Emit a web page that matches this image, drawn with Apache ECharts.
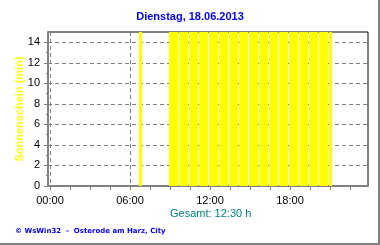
<!DOCTYPE html>
<html><head><meta charset="utf-8">
<script src="https://cdn.jsdelivr.net/npm/echarts@6/dist/echarts.min.js"></script>
<style>html,body{margin:0;padding:0;background:#fff}#c{width:380px;height:245px}</style>
</head><body><div id="c"></div>
<script>
const chartTitle = 'Dienstag, 18.06.2013';
const yAxisName = 'Sonnenschein (min)';
const totalText = 'Gesamt: 12:30 h';
const footerText = '\u00A9 WsWin32  -  Osterode am Harz, City';
const xTickLabels = ['00:00', '06:00', '12:00', '18:00'];
const xLabelHours = [0, 6, 12, 18];
const xMinorHours = [0, 1.5, 3, 4.5, 6, 7.5, 9, 10.5, 12, 13.5, 15, 16.5, 18, 19.5, 21, 22.5];
const yLabelValues = [0, 2, 4, 6, 8, 10, 12, 14];
const yMinorValues = [0, 1, 2, 3, 4, 5, 6, 7, 8, 9, 10, 11, 12, 13, 14];
// 15-minute intervals with sunshine (timestamp, minutes of sunshine)
const sunTimes = [
  '06:45',
  '09:00', '09:15', '09:30', '09:45', '10:00', '10:15', '10:30', '10:45',
  '11:00', '11:15', '11:30', '11:45', '12:00', '12:15', '12:30', '12:45',
  '13:00', '13:15', '13:30', '13:45', '14:00', '14:15', '14:30', '14:45',
  '15:00', '15:15', '15:30', '15:45', '16:00', '16:15', '16:30', '16:45',
  '17:00', '17:15', '17:30', '17:45', '18:00', '18:15', '18:30', '18:45',
  '19:00', '19:15', '19:30', '19:45', '20:00', '20:15', '20:30', '20:45',
  '21:00'
];
const sunMinutes = [
  15,
  15, 15, 15, 15, 15, 15, 15, 15,
  15, 15, 15, 15, 15, 15, 15, 15,
  15, 15, 15, 15, 15, 15, 15, 15,
  15, 15, 15, 15, 15, 15, 15, 15,
  15, 15, 15, 15, 15, 15, 15, 15,
  15, 15, 15, 15, 15, 15, 15, 15,
  15
];
const intervalHours = 0.25;

const toHours = s => { const p = s.split(':'); return +p[0] + (+p[1]) / 60; };
const barData = sunTimes.map((t, i) => [toHours(t), sunMinutes[i]]);

const FONT = 'Liberation Sans, Arial, sans-serif';
const chart = echarts.init(document.getElementById('c'), null, {renderer: 'canvas'});
const xCommon = {type: 'value', min: -0.15, max: 23.85, position: 'bottom', gridIndex: 0};
chart.setOption({
  animation: false,
  backgroundColor: '#fff',
  title: {
    text: chartTitle, left: 'center', top: 11, padding: 0,
    textStyle: {color: '#0000ff', fontWeight: 'bold', fontSize: 11, fontFamily: FONT}
  },
  grid: {left: 48, top: 32, width: 320, height: 154, show: true, borderColor: '#000', borderWidth: 1, backgroundColor: '#fff'},
  xAxis: [
    Object.assign({}, xCommon, {
      axisLine: {onZero: false, lineStyle: {color: '#808080', width: 2}},
      axisTick: {show: false, customValues: xLabelHours},
      axisLabel: {customValues: xLabelHours, color: '#000', fontSize: 11, fontFamily: FONT, margin: 9,
        formatter: v => xTickLabels[xLabelHours.indexOf(v)] || ''},
      splitLine: {show: true, lineStyle: {color: '#808080', type: [4, 3], width: 1}}
    }),
    Object.assign({}, xCommon, {
      axisLine: {show: false},
      axisTick: {show: true, customValues: xMinorHours, length: 4, lineStyle: {color: '#808080'}},
      axisLabel: {show: false},
      splitLine: {show: false}
    })
  ],
  yAxis: [
    {
      type: 'value', min: 0, max: 15, position: 'left',
      name: yAxisName, nameLocation: 'middle', nameGap: 23, nameRotate: 90, nameMoveOverlap: false,
      nameTextStyle: {color: '#ffff00', fontWeight: 'bold', fontSize: 11, fontFamily: FONT},
      axisLine: {onZero: false, lineStyle: {color: '#808080', width: 2}},
      axisTick: {customValues: yLabelValues, length: 4, lineStyle: {color: '#808080'}},
      axisLabel: {customValues: yLabelValues, color: '#000', fontSize: 11, fontFamily: FONT, margin: 8},
      splitLine: {show: true, lineStyle: {color: '#808080', type: [4, 3], width: 1}}
    },
    {
      type: 'value', min: 0, max: 15, position: 'left',
      axisLine: {show: false, onZero: false},
      axisTick: {customValues: yMinorValues, length: 2, lineStyle: {color: '#808080'}},
      axisLabel: {show: false},
      splitLine: {show: false}
    }
  ],
  series: [{
    type: 'custom',
    xAxisIndex: 0, yAxisIndex: 0,
    data: barData,
    encode: {x: 0, y: 1},
    clip: true,
    renderItem: (params, api) => {
      const t = api.value(0), v = api.value(1);
      const a = api.coord([t - intervalHours / 2, v]);
      const b = api.coord([t + intervalHours / 2, 0]);
      const x = Math.ceil(a[0] - 1e-6);
      const w = Math.floor(b[0] - a[0] + 1e-6);
      return {type: 'rect', shape: {x: x, y: a[1], width: w, height: b[1] - a[1]}, style: {fill: '#ffff00'}};
    }
  }],
  graphic: [
    {type: 'text', left: 170, top: 208, style: {text: totalText, fill: '#008080', font: '11px ' + FONT}},
    {type: 'text', left: 15, top: 228, style: {text: footerText, fill: '#0000ff', font: 'bold 7px DejaVu Sans, sans-serif'}},
    {type: 'rect', shape: {x: 378, y: 0, width: 2, height: 245}, style: {fill: '#808080'}},
    {type: 'rect', shape: {x: 0, y: 243, width: 380, height: 2}, style: {fill: '#808080'}}
  ]
});
</script></body></html>
